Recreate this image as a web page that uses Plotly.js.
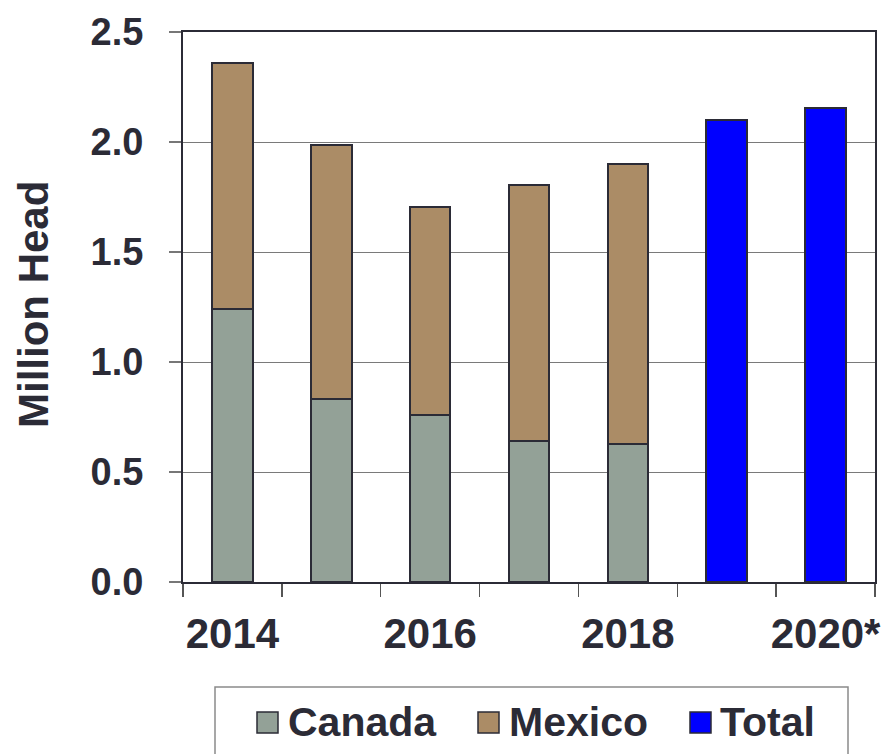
<!DOCTYPE html>
<html>
<head>
<meta charset="utf-8">
<script src="https://cdn.plot.ly/plotly-3.0.1.min.js"></script>
<style>html,body{margin:0;padding:0;background:#fff;}#chart{width:883px;height:754px;}</style>
</head>
<body>
<div id="chart"></div>
<script>
const years = [2014, 2015, 2016, 2017, 2018, 2019, 2020];
const tickYears = [2014, 2016, 2018, 2020];
const tickLabels = ['2014', '2016', '2018', '2020*'];
const seriesNames = ['Canada', 'Mexico', 'Total'];
const seriesColors = ['#93a197', '#ab8c66', '#0000ff'];
const canada = [1.24, 0.832, 0.759, 0.64, 0.629, null, null];
const mexico = [1.12, 1.154, 0.946, 1.165, 1.271, null, null];
const total  = [null, null, null, null, null, 2.10, 2.153];

const dark = '#2b2b36';
const bold = 'Liberation Sans, Arial, sans-serif';

const barLine = {color: dark, width: 2};
const values = [canada, mexico, total];
const traces = values.map((v, i) => ({
  type: 'bar', name: seriesNames[i], x: years, y: v, width: 0.41,
  marker: {color: seriesColors[i], line: barLine}, showlegend: false
}));

const boundaries = years.map(y => y - 0.5).concat([years[years.length - 1] + 0.5]);

// plot area in pixels: x 183..875, y 32..582
const px = v => (v - 183) / 692;
const py = v => (582 - v) / 550;

// legend drawn as shapes + text (square left edges and text left edges, in px)
const legendSquareX = [257, 478, 690];
const legendTextX = [286, 507, 718];
const shapes = [{
  type: 'rect', xref: 'paper', yref: 'paper', layer: 'below',
  x0: px(215), x1: px(848), y0: py(687), y1: py(800),
  line: {color: '#8a8a8a', width: 1.5}, fillcolor: 'rgba(0,0,0,0)'
}];
const annotations = [{
  text: 'Million Head', xref: 'paper', yref: 'paper',
  x: px(33), y: py(305), xanchor: 'center', yanchor: 'middle',
  textangle: -90, showarrow: false,
  font: {family: bold, size: 42, color: dark, weight: 'bold'}
}];
seriesNames.forEach((name, i) => {
  shapes.push({
    type: 'rect', xref: 'paper', yref: 'paper',
    x0: px(legendSquareX[i]), x1: px(legendSquareX[i] + 21), y0: py(733), y1: py(712),
    line: {color: dark, width: 1.5}, fillcolor: seriesColors[i]
  });
  annotations.push({
    text: name, xref: 'paper', yref: 'paper',
    x: px(legendTextX[i]), y: py(722), xanchor: 'left', yanchor: 'middle',
    showarrow: false,
    font: {family: bold, size: 41, color: dark, weight: 'bold'}
  });
});

const layout = {
  width: 883, height: 754,
  margin: {l: 183, r: 8, t: 32, b: 172, autoexpand: false},
  barmode: 'stack',
  paper_bgcolor: '#fff', plot_bgcolor: '#fff',
  showlegend: false,
  xaxis: {
    range: [2013.5, 2020.5],
    tickmode: 'array', tickvals: tickYears, ticktext: tickLabels,
    ticks: '', showgrid: false, zeroline: false,
    showline: true, linecolor: dark, linewidth: 2, mirror: true,
    tickfont: {family: bold, size: 42, color: dark, weight: 'bold'},
    ticklabelstandoff: 14,
    minor: {tickmode: 'array', tickvals: boundaries, ticks: 'outside', ticklen: 13,
            tickwidth: 1.5, tickcolor: '#555', showgrid: false}
  },
  yaxis: {
    range: [0, 2.5], dtick: 0.5, tick0: 0, tickformat: '.1f',
    ticks: 'outside', ticklen: 12, tickwidth: 1.5, tickcolor: '#777',
    showgrid: true, gridcolor: '#7a7a7a', gridwidth: 1,
    zeroline: false,
    showline: true, linecolor: dark, linewidth: 2, mirror: true,
    tickfont: {family: bold, size: 38, color: dark, weight: 'bold'},
    ticklabelstandoff: 18
  },
  shapes: shapes,
  annotations: annotations
};

Plotly.newPlot('chart', traces, layout, {displayModeBar: false, staticPlot: true});
</script>
</body>
</html>
